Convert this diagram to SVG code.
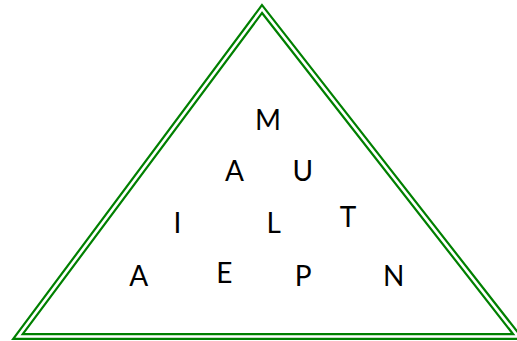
<svg xmlns="http://www.w3.org/2000/svg" width="517" height="341" viewBox="0 0 517 341">
<style>
.outer{fill:none;stroke:#008000;stroke-width:7;stroke-linejoin:miter;stroke-miterlimit:10}
.inner{fill:none;stroke:#ffffff;stroke-width:2.6;stroke-linejoin:miter;stroke-miterlimit:10}
.l{font-family:Lato,"Liberation Sans",sans-serif;font-size:28px;fill:#000;text-anchor:middle}
</style>
<rect width="517" height="341" fill="#fff"/>
<g id="triangle">
<polygon class="outer" points="262,9 18,336.5 518,336.5"/>
<polygon class="inner" points="262,9 18,336.5 518,336.5"/>
</g>
<g id="letters">
<text class="l" x="268" y="129.5">M</text>
<text class="l" x="234.5" y="181">A</text>
<text class="l" x="302.7" y="181">U</text>
<text class="l" x="177.5" y="233.3">I</text>
<text class="l" x="273.7" y="233.3">L</text>
<text class="l" x="348" y="226.7">T</text>
<text class="l" x="138.7" y="285.7">A</text>
<text class="l" x="224.3" y="283.3">E</text>
<text class="l" x="303.2" y="285.7">P</text>
<text class="l" x="393.8" y="285.7">N</text>
</g>
</svg>
